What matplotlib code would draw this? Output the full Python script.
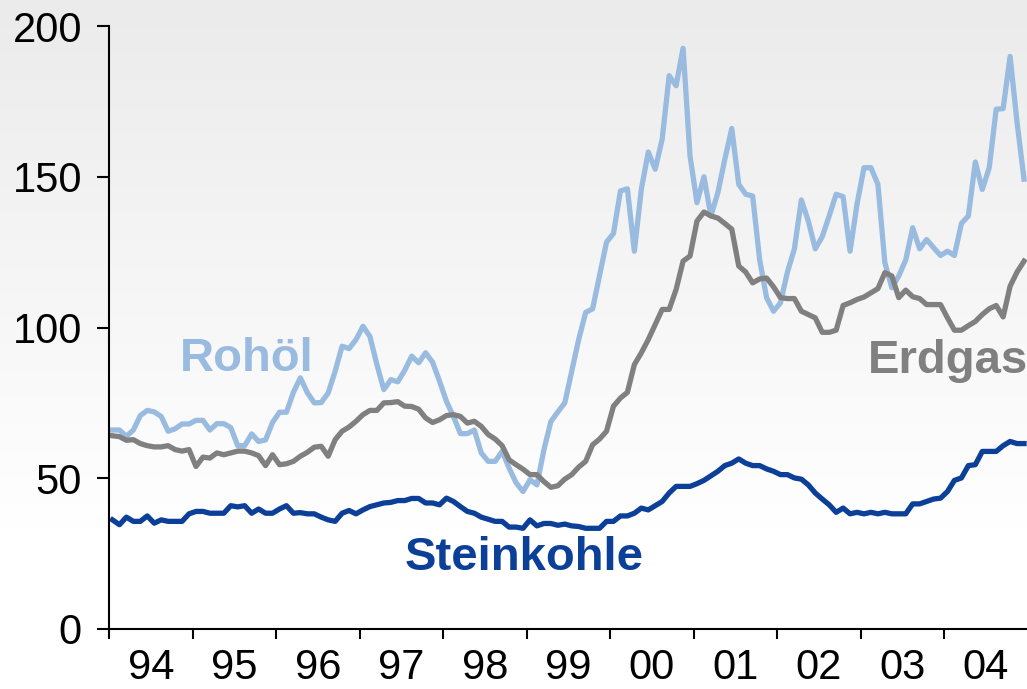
import numpy as np
import matplotlib
matplotlib.use("Agg")
import matplotlib.pyplot as plt
from matplotlib.colors import LinearSegmentedColormap

# monatliche Werte Jan 1994 - Dez 2004
rohoel = [66, 66, 63.9, 66, 70.8, 72.5, 72, 70.5, 65.6, 66.4,
          68, 68, 69.2, 69.2, 66, 68.1, 68.1, 66.8, 60.8, 60.8,
          64.7, 62.2, 62.7, 68.5, 71.9, 71.9, 78.5, 83.3, 78.4, 75,
          75.1, 78.3, 85.5, 93.8, 93, 96, 100.4, 97, 87.7, 79.4,
          82.7, 82, 85.8, 90.5, 88.3, 91.6, 88.5, 82.2, 75.5, 70.5,
          64.8, 64.8, 66, 58.4, 55.6, 55.6, 58.9, 53.4, 48.5, 45.6,
          49.5, 47.8, 59.4, 68.8, 72, 75, 85.5, 96, 105, 106.2,
          117.2, 128.3, 131.2, 145.3, 146, 125.3, 145.8, 158.2, 152.5, 162.5,
          183.5, 180.2, 192.6, 156.9, 141.4, 150, 137, 144.7, 155.8, 166,
          147.5, 144.2, 143.6, 122.6, 109.9, 105.4, 108.2, 118.4, 126.1, 142.3,
          135.3, 126.1, 130.1, 137, 144.2, 143.4, 125.3, 140.9, 153, 153,
          147.5, 121.5, 113.2, 117.1, 122.4, 133.1, 126.1, 129.2, 126.5, 123.9,
          125.3, 123.9, 134.5, 137, 154.9, 145.8, 153, 172.4, 172.6, 189.9,
          168, 149.2]

erdgas = [64.1, 63.8, 62.6, 62.8, 61.5, 60.8, 60.4, 60.4, 60.8, 59.5,
          59, 59.5, 53.9, 57, 56.7, 58.4, 57.8, 58.4, 59, 59,
          58.4, 57.5, 54.2, 57.8, 54.5, 54.8, 55.6, 57.3, 58.6, 60.3,
          60.6, 57.3, 62.8, 65.6, 67, 68.9, 71.1, 72.5, 72.5, 75,
          75.1, 75.4, 73.9, 73.8, 72.9, 70, 68.5, 69.4, 70.8, 71.1,
          70.5, 68.3, 68.9, 67.2, 64.5, 63, 60.8, 56.1, 54.5, 53,
          51.2, 51.2, 48.9, 47, 47.5, 49.7, 51.2, 53.7, 55.6, 61.1,
          63, 65.6, 73.9, 76.6, 78.5, 87.7, 91.6, 96, 101, 106,
          106, 112.6, 122, 123.7, 135.3, 138.3, 137, 136.3, 134.5, 132.6,
          120.4, 118.4, 114.8, 116.1, 116.4, 113.5, 109.9, 109.6, 109.6, 105.4,
          104.3, 103.2, 98.4, 98.4, 99.1, 107.3, 108.2, 109.3, 110.1, 111.5,
          112.9, 118.2, 117.1, 109.9, 112.4, 110.2, 109.6, 107.6, 107.6, 107.6,
          103.2, 99.1, 99.1, 100.6, 102, 104.3, 106.2, 107.3, 103.5, 113.7,
          118.4, 122]

steinkohle = [36.2, 34.6, 37.1, 35.7, 35.7, 37.5, 35.1, 36.2, 35.7, 35.7,
              35.7, 38.2, 39, 39, 38.4, 38.4, 38.4, 40.9, 40.5, 40.9,
              38.4, 39.8, 38.4, 38.4, 39.8, 40.9, 38.4, 38.6, 38.2, 38.2,
              37.1, 36.2, 35.7, 38.4, 39.3, 38.2, 39.5, 40.6, 41.2, 41.8,
              42, 42.6, 42.6, 43.3, 43.3, 41.8, 41.8, 41.2, 43.4, 42.3,
              40.6, 39, 38.4, 37.1, 36.4, 35.7, 35.7, 33.8, 33.8, 33.4,
              36.2, 34.2, 35, 35, 34.4, 34.8, 34.2, 34, 33.4, 33.4,
              33.4, 35.7, 35.7, 37.5, 37.5, 38.4, 40.1, 39.5, 40.9, 42.3,
              45.1, 47.3, 47.3, 47.3, 48.2, 49.3, 50.8, 52.3, 54.2, 55,
              56.4, 55, 54.2, 54.2, 53.1, 52.3, 51.2, 51.2, 50.1, 49.7,
              47.8, 45.1, 43.1, 41.2, 38.7, 40.1, 38.2, 38.7, 38.2, 38.7,
              38.2, 38.7, 38.2, 38.2, 38.2, 41.5, 41.5, 42.3, 43.1, 43.4,
              45.6, 49.3, 50.1, 54.2, 54.5, 58.9, 58.9, 58.9, 60.8, 62.2,
              61.5, 61.5]

jahre = ['94', '95', '96', '97', '98', '99', '00', '01', '02', '03', '04']

monate = 1994 + (np.arange(len(rohoel)) + 0.5) / 12

c_oel = '#99bbe0'
c_gas = '#808080'
c_kohle = '#0b3f98'

plt.rcParams['font.family'] = ['Liberation Sans', 'DejaVu Sans']

fig = plt.figure(figsize=(10.27, 6.89), dpi=100)

# Hintergrund mit Verlauf
bg = fig.add_axes([0, 0, 1, 1], zorder=-1)
grad = np.linspace(0, 1, 256).reshape(-1, 1)
cmap = LinearSegmentedColormap.from_list('bg', ['#ebebeb', '#ffffff'])
bg.imshow(np.clip(grad * 1.3, 0, 1), aspect='auto', cmap=cmap, extent=[0, 1, 0, 1], origin='upper', vmin=0, vmax=1)
bg.axis('off')

ax = fig.add_axes([109 / 1027, 60 / 689, 918 / 1027, 603 / 689])
ax.set_facecolor('none')

ax.plot(monate, rohoel, color=c_oel, lw=3.8, solid_joinstyle='round')
ax.plot(monate, erdgas, color=c_gas, lw=3.8, solid_joinstyle='round')
ax.plot(monate, steinkohle, color=c_kohle, lw=3.8, solid_joinstyle='round')

ax.set_xlim(1994, 2004.994)
ax.set_ylim(0, 200)

ax.spines['top'].set_visible(False)
ax.spines['right'].set_visible(False)
ax.spines['left'].set_linewidth(1.5)
ax.spines['bottom'].set_linewidth(1.5)

ax.set_yticks([0, 50, 100, 150, 200])
ax.tick_params(axis='y', direction='out', length=8.5, width=1.5, labelsize=30, pad=11)

ax.set_xticks(np.arange(1994, 2005))
ax.set_xticklabels([])
ax.set_xticks(np.arange(1994, 2005) + 0.5, minor=True)
ax.set_xticklabels(jahre, minor=True)
ax.tick_params(axis='x', which='major', direction='out', length=7.5, width=1.5)
ax.tick_params(axis='x', which='minor', length=0, labelsize=30, pad=13.5)

ax.text(1994.85, 85.6, 'Rohöl', color=c_oel, fontsize=34, fontweight='bold', va='baseline')
ax.text(2003.09, 84.9, 'Erdgas', color=c_gas, fontsize=34, fontweight='bold', va='baseline', clip_on=False)
ax.text(1997.54, 19.6, 'Steinkohle', color=c_kohle, fontsize=34, fontweight='bold', va='baseline')

fig.savefig('out.png', dpi=100)
